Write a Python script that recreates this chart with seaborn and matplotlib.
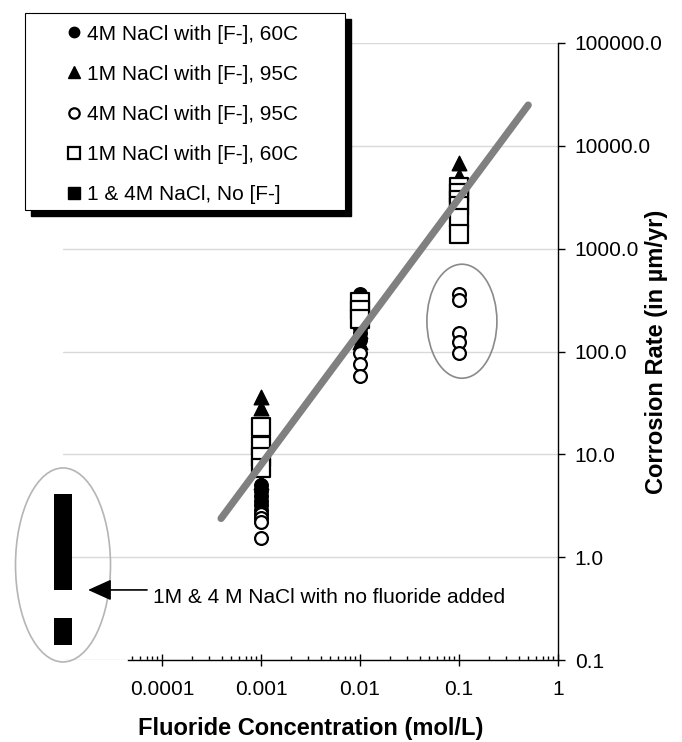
import numpy as np
import pandas as pd
import matplotlib
matplotlib.use("Agg")
import matplotlib.pyplot as plt
import seaborn as sns
from matplotlib.lines import Line2D
from matplotlib.patches import Ellipse, Rectangle
from matplotlib.transforms import ScaledTranslation
from matplotlib.ticker import FixedLocator, NullLocator, FuncFormatter

# ---------------- data ----------------
labels = ["4M NaCl with [F-], 60C", "1M NaCl with [F-], 95C",
          "4M NaCl with [F-], 95C", "1M NaCl with [F-], 60C",
          "1 & 4M NaCl, No [F-]"]

s1_x = [0.001] * 6 + [0.01] * 4 + [0.1]
s1_y = [5.0, 4.4, 3.9, 3.5, 3.2, 2.9, 360, 170, 150, 130, 2800]

s2_x = [0.001] * 3 + [0.01] * 2 + [0.1] * 2
s2_y = [36, 28, 5.4, 160, 125, 6800, 5100]

s3_x = [0.001] * 4 + [0.01] * 3 + [0.1] * 5
s3_y = [2.6, 2.4, 2.2, 1.55, 96, 75, 58, 360, 320, 150, 125, 97]

s4_x = [0.001] * 4 + [0.01] * 3 + [0.1] * 6
s4_y = [18.5, 12, 9.5, 7.3, 300, 255, 205, 4000, 3500, 3000, 2600, 2000, 1400]

s5_x = [0.00001] * 16
s5_y = [3.4, 3.0, 2.6, 2.25, 1.95, 1.7, 1.45, 1.25, 1.08, 0.93, 0.8, 0.68, 0.58,
        0.21, 0.19, 0.17]

trend_x = [3.95e-4, 0.50]
trend_y = [2.38, 24900]

xtick_vals = [0.0001, 0.001, 0.01, 0.1, 1]
xtick_labels = ["0.0001", "0.001", "0.01", "0.1", "1"]
ytick_vals = [0.1, 1, 10, 100, 1000, 10000, 100000]

note_text = "1M & 4 M NaCl with no fluoride added"
xlabel = "Fluoride Concentration (mol/L)"
ylabel = "Corrosion Rate (in \u00b5m/yr)"

# ---------------- style ----------------
sns.set_style("white")
plt.rcParams["font.family"] = ["Liberation Sans", "DejaVu Sans"]
plt.rcParams["text.color"] = "black"
plt.rcParams["axes.labelcolor"] = "black"
plt.rcParams["xtick.color"] = "black"
plt.rcParams["ytick.color"] = "black"

W, H = 682, 742
fig = plt.figure(figsize=(W / 100, H / 100), dpi=100)
L, R, T, B = 63, 558, 43, 660
ax = fig.add_axes([L / W, 1 - B / H, (R - L) / W, (B - T) / H])
ax.set_xscale("log")
ax.set_yscale("log")
ax.set_xlim(1e-5, 1)
ax.set_ylim(0.1, 100000)

def df(x, y):
    return pd.DataFrame({"x": x, "y": y})

sns.scatterplot(data=df(s1_x, s1_y), x="x", y="y", ax=ax, marker="o", s=95,
                color="black", edgecolor="black", linewidth=1, zorder=3)
sns.scatterplot(data=df(s2_x, s2_y), x="x", y="y", ax=ax, marker="^", s=110,
                color="black", edgecolor="black", linewidth=1, zorder=3)
sns.scatterplot(data=df(s3_x, s3_y), x="x", y="y", ax=ax, marker="o", s=85,
                color="white", edgecolor="black", linewidth=1.6, zorder=3)
sns.scatterplot(data=df(s4_x, s4_y), x="x", y="y", ax=ax, marker="s", s=150,
                color="white", edgecolor="black", linewidth=1.6, zorder=3)
sns.scatterplot(data=df(s5_x, s5_y), x="x", y="y", ax=ax, marker="s", s=150,
                color="black", edgecolor="none", linewidth=0, zorder=3,
                clip_on=False)

sns.lineplot(x=trend_x, y=trend_y, ax=ax, color="#808080", linewidth=5.2,
             zorder=5, solid_capstyle="round")

# ---------------- axes ----------------
for side in ("left", "top"):
    ax.spines[side].set_visible(False)
for side in ("right", "bottom"):
    ax.spines[side].set_visible(True)
    ax.spines[side].set_color("black")
    ax.spines[side].set_linewidth(1)
ax.spines["bottom"].set_bounds(4.5e-5, 1)

ax.set_xticks(xtick_vals)
ax.set_xticklabels(xtick_labels)
minor = [k * 10.0 ** e for e in range(-5, 0) for k in range(2, 10) if k * 10.0 ** e >= 4.5e-5]
ax.xaxis.set_minor_locator(FixedLocator(minor))
ax.tick_params(axis="x", which="major", direction="inout", length=9, width=1,
               color="black", labelcolor="black", labelsize=15, pad=10,
               bottom=True, top=False)
ax.tick_params(axis="x", which="minor", direction="in", length=3, width=1,
               color="black", bottom=True, top=False)

ax.yaxis.tick_right()
ax.set_yticks(ytick_vals)
ax.yaxis.set_minor_locator(NullLocator())
ax.yaxis.set_major_formatter(FuncFormatter(lambda v, _: f"{v:.1f}"))
ax.tick_params(axis="y", which="major", direction="out", length=5, width=1,
               color="black", labelcolor="black", labelsize=15, pad=7,
               left=False, right=True, labelleft=False, labelright=True)

ax.yaxis.grid(True, which="major", color="#d9d9d9", linewidth=1)
ax.xaxis.grid(False)
ax.set_axisbelow(True)

ax.set_xlabel(xlabel, fontsize=17, fontweight="bold", color="black")
ax.xaxis.set_label_coords(0.5, -(717 - B) / (B - T))
ax.yaxis.set_label_position("right")
ax.set_ylabel(ylabel, fontsize=17, fontweight="bold", color="black")
ax.yaxis.set_label_coords((645 - L) / (R - L), 0.5)

# ---------------- annotations ----------------
def px_ellipse(xd, yd, w_px, h_px, color):
    tr = fig.dpi_scale_trans + ScaledTranslation(xd, yd, ax.transData)
    e = Ellipse((0, 0), w_px / 100, h_px / 100, transform=tr, fill=False,
                edgecolor=color, linewidth=1.2, clip_on=False, zorder=2)
    ax.add_artist(e)

px_ellipse(1e-5, 0.84, 95, 194, "#b5b5b5")
px_ellipse(0.107, 197, 70, 114, "#8a8a8a")

ax.annotate("", xy=(1.79e-5, 0.48), xytext=(7.06e-5, 0.48),
            arrowprops=dict(arrowstyle="-|>,head_length=1.44,head_width=0.65",
                            color="black", lw=1.2, mutation_scale=10,
                            shrinkA=0, shrinkB=0))
ax.text(8.1e-5, 0.36, note_text, fontsize=15, ha="left", va="baseline",
        color="black")

# ---------------- legend ----------------
lx0, ly0, lx1, ly1 = 25, 13, 345, 210
sh = 6
fig.add_artist(Rectangle(((lx0 + sh) / W, 1 - (ly1 + sh) / H), (lx1 - lx0) / W,
                         (ly1 - ly0) / H, transform=fig.transFigure,
                         facecolor="black", edgecolor="black", zorder=3))
fig.add_artist(Rectangle((lx0 / W, 1 - ly1 / H), (lx1 - lx0) / W,
                         (ly1 - ly0) / H, transform=fig.transFigure,
                         facecolor="white", edgecolor="black", linewidth=0.8,
                         zorder=4))

handles = [
    Line2D([], [], ls="none", marker="o", ms=7.5, mfc="black", mec="black"),
    Line2D([], [], ls="none", marker="^", ms=8.5, mfc="black", mec="black"),
    Line2D([], [], ls="none", marker="o", ms=7.5, mfc="white", mec="black", mew=1.6),
    Line2D([], [], ls="none", marker="s", ms=9, mfc="white", mec="black", mew=1.6),
    Line2D([], [], ls="none", marker="s", ms=9, mfc="black", mec="black"),
]
leg = fig.legend(handles, labels, loc="upper left",
                 bbox_to_anchor=(47 / W, 1 - 6 / H), frameon=False,
                 fontsize=15, handlelength=0.8, handletextpad=0.2,
                 labelspacing=1.01, borderpad=0.4, labelcolor="black")
leg.set_zorder(6)

fig.savefig("out.png", dpi=100)
